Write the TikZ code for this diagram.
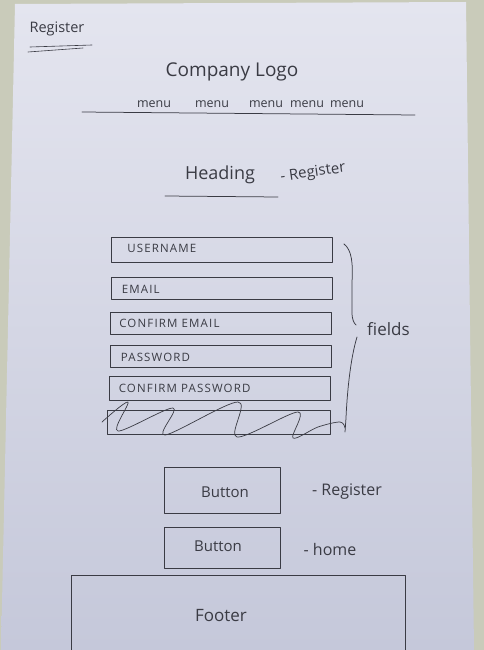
\documentclass[tikz,border=0pt]{standalone}
\usepackage{fontspec}
\setmainfont{Open Sans}
\newfontfamily\capsfont[LetterSpace=10]{Open Sans}
\definecolor{paperTop}{HTML}{E4E5EF}
\definecolor{paperBot}{HTML}{C5C8DA}
\definecolor{desk}{HTML}{C9CBBA}
\definecolor{pencil}{HTML}{3A3B44}
\begin{document}
\begin{tikzpicture}[x=1pt,y=-1pt,
  pen/.style={draw=pencil, line width=0.75pt, line cap=round, line join=round},
  hand/.style={text=pencil, inner sep=0pt},
  fieldbox/.style={pen, rectangle, minimum width=221pt, minimum height=22pt, inner sep=0pt},
  fieldlabel/.style={hand, anchor=west, font=\capsfont\fontsize{11.5}{11.5}\selectfont},
  buttonbox/.style={pen, rectangle, minimum width=116pt, inner sep=0pt}]
\useasboundingbox (0,0) rectangle (484,650);
% desk and sheet of paper
\fill[desk] (0,0) rectangle (484,650);
\shade[top color=paperTop, bottom color=paperBot] (15,4) -- (466,2) -- (474,650) -- (1,650) -- cycle;
\clip (15,4) -- (466,2) -- (474,650) -- (1,650) -- cycle;

% page title
\node[hand, font=\fontsize{14.5}{14.5}\selectfont] (title) at (57,29) {Register};
\draw[pen, line width=0.6pt] (30,47) -- (92,45);
\draw[pen, line width=0.6pt] (28,52) -- (83,48);

% header
\node[hand, font=\fontsize{19}{19}\selectfont] (logo) at (232,72) {Company Logo};
\foreach \x/\n in {154/m1, 212/m2, 266/m3, 307/m4, 347/m5}
  \node[hand, font=\fontsize{12.5}{12.5}\selectfont] (\n) at (\x,104) {menu};
\coordinate (navL) at (82,112);
\coordinate (navR) at (415,115);
\draw[pen] (navL) -- (navR);

% heading
\node[hand, font=\fontsize{18}{18}\selectfont] (heading) at (220,175) {Heading};
\node[hand, font=\fontsize{15}{15}\selectfont, rotate=8] (headnote) at (313,173) {- Register};
\coordinate (hL) at (165,196);
\coordinate (hR) at (278,197);
\draw[pen] (hL) -- (hR);

% form fields
\node[fieldbox, minimum height=25pt] (f1) at (222,249.5) {};
\node[fieldbox] (f2) at (221.5,288.5) {};
\node[fieldbox] (f3) at (221,323) {};
\node[fieldbox] (f4) at (220.5,356) {};
\node[fieldbox, minimum height=24pt] (f5) at (219.5,388) {};
\node[fieldbox, minimum width=223pt, minimum height=24pt] (f6) at (218.5,422.5) {};
\node[fieldlabel] at ([xshift=16pt,yshift=1pt]f1.west) {USERNAME};
\node[fieldlabel] at ([xshift=11pt,yshift=-1pt]f2.west) {EMAIL};
\node[fieldlabel] at ([xshift=9pt]f3.west) {CONFIRM EMAIL};
\node[fieldlabel] at ([xshift=11pt,yshift=-1pt]f4.west) {PASSWORD};
\node[fieldlabel] at ([xshift=10pt]f5.west) {CONFIRM PASSWORD};

% scribble through the last field
\draw[pen, line width=0.7pt] plot[smooth, tension=0.55] coordinates {
  (102,422) (128,402) (118,431) (173,408) (165,435) (238,402)
  (237,437) (298,412) (293,438) (318,427) (340,422) (345,428)};

% brace grouping the fields
\coordinate (bTop) at (344,244);
\coordinate (bTip) at (356,325);
\coordinate (bLow) at (357,337);
\coordinate (bEnd) at (345,432);
\draw[pen] (bTop) .. controls (352,250) and (353,264) .. (352,282)
  -- (352,312) .. controls (352,320) and (354,323) .. (bTip);
\draw[pen] (bLow) .. controls (350,360) and (347,395) .. (346,418) -- (bEnd);
\node[hand, font=\fontsize{17}{17}\selectfont, anchor=west] (fields) at (367,329) {fields};

% buttons
\node[buttonbox, minimum height=46pt] (b1) at (222,490) {};
\node[hand, font=\fontsize{15}{15}\selectfont] at (225,492) {Button};
\node[hand, font=\fontsize{16}{16}\selectfont] (b1note) at (347,492) {- Register};
\node[buttonbox, minimum height=41pt] (b2) at (222,547.5) {};
\node[hand, font=\fontsize{15}{15}\selectfont] at (218,546) {Button};
\node[hand, font=\fontsize{16}{16}\selectfont] (b2note) at (330,549) {- home};

% footer
\node[pen, rectangle, minimum width=334pt, minimum height=90pt, anchor=north west, inner sep=0pt] (footer) at (71,575) {};
\node[hand, font=\fontsize{17}{17}\selectfont] at (221,616) {Footer};
\end{tikzpicture}
\end{document}
